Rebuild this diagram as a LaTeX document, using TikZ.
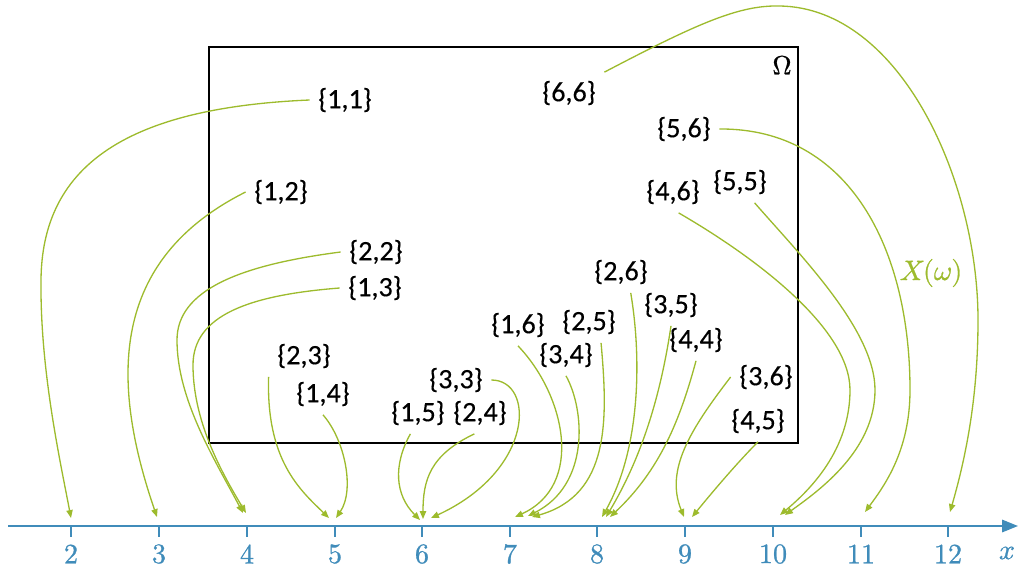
\documentclass[tikz,border=0pt]{standalone}
\usepackage{fontspec}
\newfontfamily\lab[FakeBold=0.3]{Carlito}
\newfontfamily\mtext[FakeBold=0.9]{latinmodern-math.otf}
\usetikzlibrary{arrows.meta}
\definecolor{axblue}{RGB}{64,140,186}
\definecolor{lgreen}{RGB}{157,187,45}
\begin{document}
\begin{tikzpicture}[x=0.02cm,y=-0.02cm,
  lbl/.style={font=\lab\fontsize{16}{19}\selectfont, inner sep=2pt, outer sep=3pt},
  conn/.style={draw=lgreen, line width=0.75pt, -{Triangle[length=4.5pt,width=3.6pt]}},
  axis/.style={draw=axblue, line width=1.1pt},
  tick/.style={draw=axblue, line width=0.8pt},
  num/.style={text=axblue, font=\mtext\fontsize{16}{19}\selectfont, inner sep=0pt},
  omegabox/.style={draw=black, line width=1.1pt}]
\useasboundingbox (0,0) rectangle (1024,575);

% sample space box
\draw[omegabox] (209,47) rectangle (798,443);
\node[font=\mtext\fontsize{15}{18}\selectfont, inner sep=0pt] (om) at (782,65) {Ω};

% axis
\draw[axis, -{Triangle[length=9pt,width=7pt]}] (8,526) -- (1018,526);
\foreach \v/\px in {2/71,3/159,4/247,5/335,6/422,7/510,8/597,9/685,10/773,11/861,12/948}{
  \draw[tick] (\px,526) -- (\px,537);
  \node[num] (k\v) at (\px,554) {\v};
}
\node[num] (xl) at (1007,553) {𝑥};

% function label
\node[text=lgreen, font=\mtext\fontsize{16}{19}\selectfont, inner sep=0pt] (Xw) at (931,273) {𝑋(𝜔)};

% outcomes
\node[lbl] (n11) at (345,100) {\{1,1\}};
\node[lbl] (n66) at (569,93) {\{6,6\}};
\node[lbl] (n12) at (281,192) {\{1,2\}};
\node[lbl] (n22) at (376,252) {\{2,2\}};
\node[lbl] (n13) at (375,288) {\{1,3\}};
\node[lbl] (n56) at (684,129) {\{5,6\}};
\node[lbl] (n46) at (673,192) {\{4,6\}};
\node[lbl] (n55) at (740,182) {\{5,5\}};
\node[lbl] (n26) at (621,272) {\{2,6\}};
\node[lbl] (n35) at (671,305) {\{3,5\}};
\node[lbl] (n23) at (304,356) {\{2,3\}};
\node[lbl] (n14) at (323,394) {\{1,4\}};
\node[lbl] (n33) at (456,380) {\{3,3\}};
\node[lbl] (n15) at (418,413) {\{1,5\}};
\node[lbl] (n24) at (480,413) {\{2,4\}};
\node[lbl] (n16) at (518,325) {\{1,6\}};
\node[lbl] (n25) at (589,322) {\{2,5\}};
\node[lbl] (n34) at (566,355) {\{3,4\}};
\node[lbl] (n44) at (696,340) {\{4,4\}};
\node[lbl] (n36) at (766,377) {\{3,6\}};
\node[lbl] (n45) at (758,421) {\{4,5\}};

% arrow tips
\coordinate (e11) at (71,518);
\coordinate (e12) at (157,517);
\coordinate (e22) at (243,513);
\coordinate (e13) at (246,513);
\coordinate (e23) at (329,518);
\coordinate (e14) at (336,518);
\coordinate (e15) at (420,520);
\coordinate (e24) at (423,519);
\coordinate (e33) at (431,518);
\coordinate (e16) at (515,517);
\coordinate (e34) at (528,516);
\coordinate (e25) at (532,517);
\coordinate (e26) at (602,517);
\coordinate (e35) at (606,517);
\coordinate (e44) at (610,517);
\coordinate (e36) at (684,517);
\coordinate (e45) at (692,517);
\coordinate (e46) at (780,515);
\coordinate (e55) at (785,515);
\coordinate (e56) at (865,512);
\coordinate (e66) at (950,512);

% connectors
\draw[conn] (n11.west) .. controls (120,108) and (42,170) .. (41,280) .. controls (40,370) and (60,460) .. (e11);
\draw[conn] (n12.west) .. controls (110,260) and (110,380) .. (e12);
\draw[conn] (n22.west) .. controls (240,265) and (177,290) .. (177,340) .. controls (177,400) and (215,460) .. (e22);
\draw[conn] (n13.west) .. controls (250,295) and (193,315) .. (193,365) .. controls (193,420) and (220,470) .. (e13);
\draw[conn] (n23.south west) .. controls (266,460) and (300,490) .. (e23);
\draw[conn] (n14.south) .. controls (345,440) and (355,490) .. (e14);
\draw[conn] (n15.-110) .. controls (393,465) and (395,495) .. (e15);
\draw[conn] (n24.-105) .. controls (430,455) and (423,480) .. (e24);
\draw[conn] (n33.east) .. controls (535,380) and (535,470) .. (e33);
\draw[conn] (n16.south) .. controls (565,395) and (585,485) .. (e16);
\draw[conn] (n34.south) .. controls (585,410) and (590,485) .. (e34);
\draw[conn] (n25.-60) .. controls (608,420) and (610,495) .. (e25);
\draw[conn] (n26.-65) .. controls (642,360) and (640,450) .. (e26);
\draw[conn] (n35.south) .. controls (660,400) and (640,460) .. (e35);
\draw[conn] (n44.south) .. controls (680,420) and (660,470) .. (e44);
\draw[conn] (n36.west) .. controls (690,430) and (665,470) .. (e36);
\draw[conn] (n45.south) .. controls (735,465) and (710,495) .. (e45);
\draw[conn] (n46.-75) .. controls (760,260) and (850,330) .. (850,390) .. controls (850,450) and (810,490) .. (e46);
\draw[conn] (n55.-55) .. controls (800,255) and (875,330) .. (875,390) .. controls (875,450) and (820,490) .. (e55);
\draw[conn] (n56.east) .. controls (850,128) and (910,250) .. (910,390) .. controls (910,450) and (885,485) .. (e56);
\draw[conn] (n66.north east) .. controls (700,22) and (740,5) .. (780,6) .. controls (900,8) and (978,180) .. (978,320) .. controls (978,400) and (965,460) .. (e66);
\end{tikzpicture}
\end{document}
